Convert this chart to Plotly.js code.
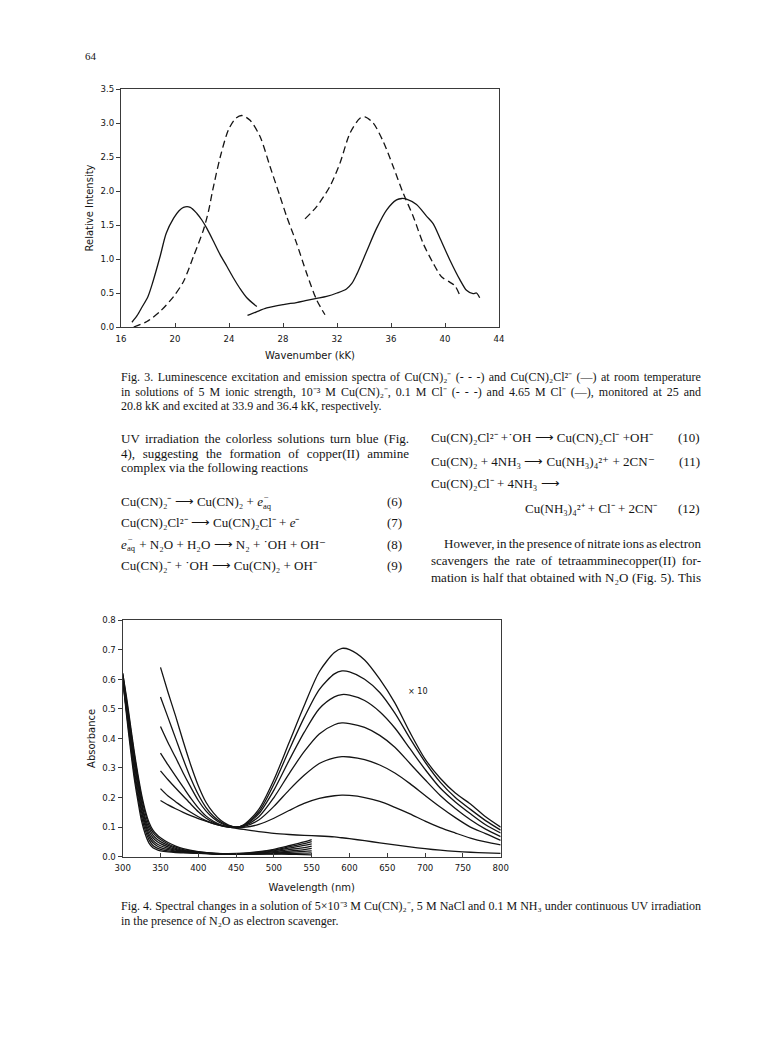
<!DOCTYPE html>
<html>
<head>
<meta charset="utf-8">
<script src="https://cdn.plot.ly/plotly-3.0.1.min.js"></script>
<style>
html,body{margin:0;padding:0;background:#fff;}
#chart{width:768px;height:1056px;}
</style>
</head>
<body>
<div id="chart"></div>
<script>
// ---------------- Fig. 3 data (wavenumber kK, relative intensity) ----------------
const emisA_x = [16.81,17.2,17.55,18.0,18.37,18.9,19.35,19.9,20.3,20.63,21.13,21.62,22.0,22.36,22.85,23.35,23.85,24.33,24.8,25.32,26.06];
const emisA_y = [0.07,0.17,0.29,0.45,0.67,1.04,1.38,1.60,1.71,1.76,1.76,1.67,1.57,1.45,1.26,1.06,0.89,0.72,0.57,0.43,0.30];
const exciB_x = [25.37,26.0,26.8,28.03,29.0,29.75,30.5,31.23,32.0,32.7,33.1,33.45,34.19,34.93,35.67,36.41,36.8,37.15,37.89,38.63,39.12,39.62,40.35,41.09,41.59,42.08,42.33,42.57];
const exciB_y = [0.17,0.22,0.28,0.33,0.36,0.39,0.42,0.45,0.50,0.56,0.64,0.77,1.11,1.45,1.72,1.87,1.89,1.88,1.80,1.63,1.52,1.31,0.99,0.70,0.54,0.49,0.50,0.43];
const emisC_x = [16.94,17.92,18.9,19.9,20.63,21.37,22.11,22.5,22.78,23.35,23.96,24.5,24.95,25.56,26.3,27.04,27.78,28.28,29.01,29.75,30.49,31.11];
const emisC_y = [0.0,0.08,0.23,0.45,0.67,1.04,1.43,1.72,2.0,2.5,2.9,3.07,3.11,3.04,2.80,2.36,1.92,1.62,1.23,0.79,0.40,0.18];
const exciD_x = [29.63,30.49,31.48,32.22,32.96,33.7,34.07,34.68,35.42,36.16,36.9,37.64,38.38,39.12,39.74,40.35,40.72,41.09];
const exciD_y = [1.59,1.77,2.07,2.41,2.85,3.07,3.09,3.00,2.73,2.36,1.97,1.63,1.23,0.94,0.74,0.66,0.61,0.47];
const fig3_xticks = [16,20,24,28,32,36,40,44];
const fig3_yticks = [0,0.5,1.0,1.5,2.0,2.5,3.0,3.5];

// ---------------- Fig. 4 data (wavelength nm, absorbance) ----------------
const wlUV = [300,305,310,315,320,325,330,335,340,345,350,360,370,380,400,420,440,460,480,500,520,540,550];
const uv0 = [0.62,0.54,0.45,0.36,0.28,0.21,0.155,0.115,0.090,0.075,0.064,0.048,0.036,0.027,0.017,0.012,0.010,0.009,0.009,0.009,0.008,0.007,0.006];
const uv1 = [0.62,0.53,0.44,0.35,0.27,0.20,0.145,0.105,0.082,0.068,0.058,0.043,0.032,0.024,0.016,0.011,0.009,0.009,0.009,0.010,0.011,0.012,0.013];
const uv2 = [0.615,0.52,0.43,0.34,0.26,0.185,0.13,0.095,0.073,0.060,0.051,0.038,0.028,0.021,0.015,0.011,0.009,0.009,0.010,0.012,0.015,0.018,0.020];
const uv3 = [0.61,0.51,0.42,0.33,0.25,0.175,0.12,0.085,0.064,0.052,0.044,0.033,0.025,0.019,0.014,0.010,0.009,0.009,0.011,0.014,0.019,0.024,0.028];
const uv4 = [0.61,0.505,0.41,0.32,0.235,0.16,0.11,0.075,0.055,0.044,0.037,0.028,0.022,0.017,0.013,0.010,0.009,0.010,0.012,0.017,0.024,0.031,0.036];
const uv5 = [0.605,0.495,0.40,0.30,0.22,0.15,0.10,0.066,0.047,0.037,0.031,0.024,0.019,0.016,0.012,0.010,0.009,0.010,0.014,0.020,0.029,0.038,0.043];
const uv6 = [0.60,0.49,0.385,0.285,0.205,0.135,0.088,0.056,0.038,0.030,0.025,0.020,0.017,0.015,0.012,0.010,0.009,0.011,0.015,0.022,0.033,0.044,0.051];
const uv7 = [0.60,0.48,0.37,0.27,0.19,0.12,0.075,0.045,0.030,0.024,0.020,0.016,0.014,0.013,0.011,0.010,0.010,0.012,0.017,0.025,0.037,0.050,0.058];

const wlVis = [350,360,370,380,390,400,410,420,430,440,450,460,480,500,520,540,560,580,590,600,620,640,660,680,700,720,740,760,780,800];
const vis1 = [0.64,0.555,0.475,0.39,0.31,0.24,0.185,0.148,0.122,0.107,0.10,0.108,0.16,0.26,0.385,0.51,0.625,0.69,0.704,0.70,0.665,0.60,0.52,0.42,0.33,0.265,0.215,0.178,0.135,0.10];
const vis2 = [0.54,0.47,0.40,0.33,0.265,0.21,0.167,0.137,0.117,0.105,0.10,0.106,0.152,0.245,0.36,0.47,0.565,0.618,0.628,0.625,0.60,0.555,0.485,0.40,0.32,0.252,0.20,0.16,0.122,0.09];
const vis3 = [0.44,0.385,0.335,0.283,0.235,0.19,0.155,0.13,0.113,0.104,0.10,0.105,0.145,0.225,0.325,0.42,0.50,0.54,0.548,0.546,0.528,0.49,0.435,0.365,0.295,0.232,0.185,0.145,0.108,0.08];
const vis4 = [0.35,0.31,0.272,0.235,0.198,0.165,0.138,0.12,0.108,0.102,0.10,0.104,0.135,0.20,0.28,0.355,0.415,0.446,0.452,0.45,0.437,0.41,0.37,0.315,0.26,0.207,0.163,0.125,0.093,0.068];
const vis5 = [0.29,0.26,0.232,0.205,0.178,0.152,0.131,0.116,0.106,0.101,0.099,0.102,0.124,0.17,0.225,0.275,0.315,0.334,0.338,0.337,0.328,0.31,0.283,0.247,0.207,0.168,0.132,0.10,0.078,0.055];
const vis6 = [0.23,0.205,0.186,0.167,0.15,0.135,0.122,0.112,0.105,0.10,0.098,0.099,0.109,0.13,0.156,0.18,0.197,0.206,0.208,0.207,0.20,0.187,0.167,0.145,0.12,0.098,0.08,0.063,0.05,0.04];
const vis7 = [0.19,0.175,0.162,0.15,0.139,0.129,0.12,0.112,0.105,0.10,0.096,0.092,0.085,0.079,0.075,0.072,0.070,0.067,0.064,0.061,0.054,0.047,0.040,0.033,0.027,0.022,0.018,0.015,0.013,0.011];
const fig4_xticks = [300,350,400,450,500,550,600,650,700,750,800];
const fig4_yticks = [0,0.1,0.2,0.3,0.4,0.5,0.6,0.7,0.8];

// ---------------- Page text ----------------
const pageNumber = "64";
const cap3 = [
 "Fig. 3. Luminescence excitation and emission spectra of Cu(CN)₂⁻ (- - -) and Cu(CN)₂Cl²⁻ (—) at room temperature",
 "in solutions of 5 M ionic strength, 10⁻³ M Cu(CN)₂⁻, 0.1 M Cl⁻ (- - -) and 4.65 M Cl⁻ (—), monitored at 25 and",
 "20.8 kK and excited at 33.9 and 36.4 kK, respectively."
];
const bodyLeft = [
 "UV irradiation the colorless solutions turn blue (Fig.",
 "4), suggesting the formation of copper(II) ammine",
 "complex via the following reactions"
];
// "{aq}" marks the hydrated-electron subscript/superscript pair
const eqLeft = [
 "Cu(CN)₂⁻ ⟶ Cu(CN)₂ + e{aq}",
 "Cu(CN)₂Cl²⁻ ⟶ Cu(CN)₂Cl⁻ + e⁻",
 "e{aq} + N₂O + H₂O ⟶ N₂ + ˙OH + OH⁻",
 "Cu(CN)₂⁻ + ˙OH ⟶ Cu(CN)₂ + OH⁻"
];
const eqLeftNum = ["(6)","(7)","(8)","(9)"];
const eqRight = [
 "Cu(CN)₂Cl²⁻ +˙OH ⟶ Cu(CN)₂Cl⁻ +OH⁻",
 "Cu(CN)₂ + 4NH₃ ⟶ Cu(NH₃)₄²⁺ + 2CN⁻",
 "Cu(CN)₂Cl⁻ + 4NH₃ ⟶",
 "Cu(NH₃)₄²⁺ + Cl⁻ + 2CN⁻"
];
const eqRightNum = ["(10)","(11)","","(12)"];
const bodyRight = [
 "However, in the presence of nitrate ions as electron",
 "scavengers the rate of tetraamminecopper(II) for-",
 "mation is half that obtained with N₂O (Fig. 5). This"
];
const cap4 = [
 "Fig. 4. Spectral changes in a solution of 5×10⁻³ M Cu(CN)₂⁻, 5 M NaCl and 0.1 M NH₃ under continuous UV irradiation",
 "in the presence of N₂O as electron scavenger."
];

// ---------------- build ----------------
const W = 768, H = 1056;
const fx = p => p / W, fy = p => 1 - p / H;
const INK = '#141414';
const TICKF = 'DejaVu Sans Condensed, DejaVu Sans, sans-serif';
const SANS = 'DejaVu Sans, sans-serif';
const SERIF = 'Liberation Serif, Times New Roman, serif';
const BODY = 13, CAP = 12;

const traces = [];
function line(x, y, xa, ya, dash) {
  traces.push({x: x, y: y, xaxis: xa, yaxis: ya, type: 'scatter', mode: 'lines',
    line: {color: INK, width: 1.3, shape: 'spline', smoothing: 0.8, dash: dash || 'solid'},
    hoverinfo: 'skip', showlegend: false});
}
line(emisA_x, emisA_y, 'x', 'y');
line(exciB_x, exciB_y, 'x', 'y');
line(emisC_x, emisC_y, 'x', 'y', '7px,4px');
line(exciD_x, exciD_y, 'x', 'y', '7px,4px');
[uv0, uv1, uv2, uv3, uv4, uv5, uv6, uv7].forEach(s => line(wlUV, s, 'x2', 'y2'));
[vis1, vis2, vis3, vis4, vis5, vis6, vis7].forEach(s => line(wlVis, s, 'x2', 'y2'));

// text width measurement for composing the e(aq) pieces
const ctx = document.createElement('canvas').getContext('2d');
function tw(s, size) { ctx.font = size + "px 'Liberation Serif'"; return ctx.measureText(s.replace(/<[^>]+>/g, '')).width; }

const ann = [];
const justify = {};
function txt(text, x, y, size, anchor, target) {
  if (target) justify[ann.length] = target;
  ann.push({text: text, xref: 'paper', yref: 'paper', x: fx(x), y: fy(y),
    xanchor: anchor || 'left', yanchor: 'middle', align: anchor || 'left',
    showarrow: false, borderpad: 0,
    font: {family: SERIF, size: size, color: INK}});
}
function eq(str, x, y) {
  const parts = str.split('{aq}');
  if (parts.length === 1) { txt(str.replace(/(^| )e(?=⁻)/, '$1<i>e</i>'), x, y, BODY); return; }
  const before = parts[0].slice(0, -1);          // text ending before the "e"
  const wb = tw(before, BODY);
  txt(before + '<i>e</i>', x, y, BODY);
  const xs = x + wb + tw('e', BODY) + 0.3;
  txt('aq', xs, y + 4, 8.5);
  txt('−', xs + 0.5, y - 5.5, 8.5);
  if (parts[1]) txt(parts[1], xs + tw('aq', 8.5) + 0.8, y, BODY);
}

txt(pageNumber, 84, 56, 11);
cap3.forEach((t, i) => txt(t, 120, 377 + i * 14.5, CAP, 'left', i < 2 ? 580 : 0));
bodyLeft.forEach((t, i) => txt(t, 120, 438 + i * 15, BODY, 'left', i < 2 ? 288 : 0));
const eqLy = [502, 522, 544, 565];
eqLeft.forEach((t, i) => { eq(t, 120, eqLy[i]); txt(eqLeftNum[i], 403, eqLy[i], BODY, 'right'); });
const eqRy = [437, 461, 484, 509];
eqRight.forEach((t, i) => {
  if (i === 3) txt(t, 658, eqRy[i], BODY, 'right'); else txt(t, 430, eqRy[i], BODY);
  if (eqRightNum[i]) txt(eqRightNum[i], 701, eqRy[i], BODY, 'right');
});
bodyRight.forEach((t, i) => txt(t, i === 0 ? 443 : 430, 543 + i * 17, BODY, 'left', i === 0 ? 257 : 270));
cap4.forEach((t, i) => txt(t, 120, 906 + i * 14.5, CAP, 'left', i === 0 ? 580 : 0));
// x10 label inside Fig. 4
ann.push({text: '× 10', xref: 'x2', yref: 'y2', x: 690, y: 0.56, showarrow: false,
  font: {family: TICKF, size: 9, color: INK}});

const axBase = {showline: true, mirror: true, linecolor: '#3a3a3a', linewidth: 1,
  showgrid: false, zeroline: false, tickcolor: '#3a3a3a', ticklen: 4,
  tickfont: {family: TICKF, size: 9.5, color: INK}};
const titleFont = {family: SANS, size: 10, color: INK};

const layout = {
  width: W, height: H, margin: {l: 0, r: 0, t: 0, b: 0},
  paper_bgcolor: '#fff', plot_bgcolor: '#fff', showlegend: false,
  xaxis: Object.assign({}, axBase, {domain: [fx(121), fx(499)], anchor: 'y', range: [16, 44],
    tickmode: 'array', tickvals: fig3_xticks, ticks: 'inside', ticklabelstandoff: 3,
    title: {text: 'Wavenumber (kK)', font: titleFont, standoff: 8}}),
  yaxis: Object.assign({}, axBase, {domain: [fy(327), fy(89)], anchor: 'x', range: [0, 3.5],
    tickmode: 'array', tickvals: fig3_yticks, tickformat: '.1f', ticks: 'outside',
    title: {text: 'Relative Intensity', font: titleFont, standoff: 5}}),
  xaxis2: Object.assign({}, axBase, {domain: [fx(122.7), fx(500.7)], anchor: 'y2', range: [300, 800],
    tickmode: 'array', tickvals: fig4_xticks, ticks: 'inside', ticklabelstandoff: 2,
    title: {text: 'Wavelength (nm)', font: titleFont, standoff: 11}}),
  yaxis2: Object.assign({}, axBase, {domain: [fy(856.7), fy(620)], anchor: 'x2', range: [0, 0.8],
    tickmode: 'array', tickvals: fig4_yticks, tickformat: '.1f', ticks: 'outside',
    title: {text: 'Absorbance', font: titleFont, standoff: 4}}),
  annotations: ann
};

Plotly.newPlot('chart', traces, layout, {staticPlot: true, displayModeBar: false}).then(gd => {
  // justify the typeset prose lines by adjusting the word spaces (wider or tighter)
  gd.querySelectorAll('g.annotation').forEach(g => {
    const i = +g.getAttribute('data-index');
    const target = justify[i];
    if (!target) return;
    const t = g.querySelector('text.annotation-text');
    if (!t) return;
    const natural = t.getComputedTextLength();
    const spaces = (t.textContent.match(/ /g) || []).length;
    if (spaces && Math.abs(target - natural) > 0.5) t.style.wordSpacing = ((target - natural) / spaces).toFixed(2) + 'px';
  });
});
</script>
</body>
</html>
